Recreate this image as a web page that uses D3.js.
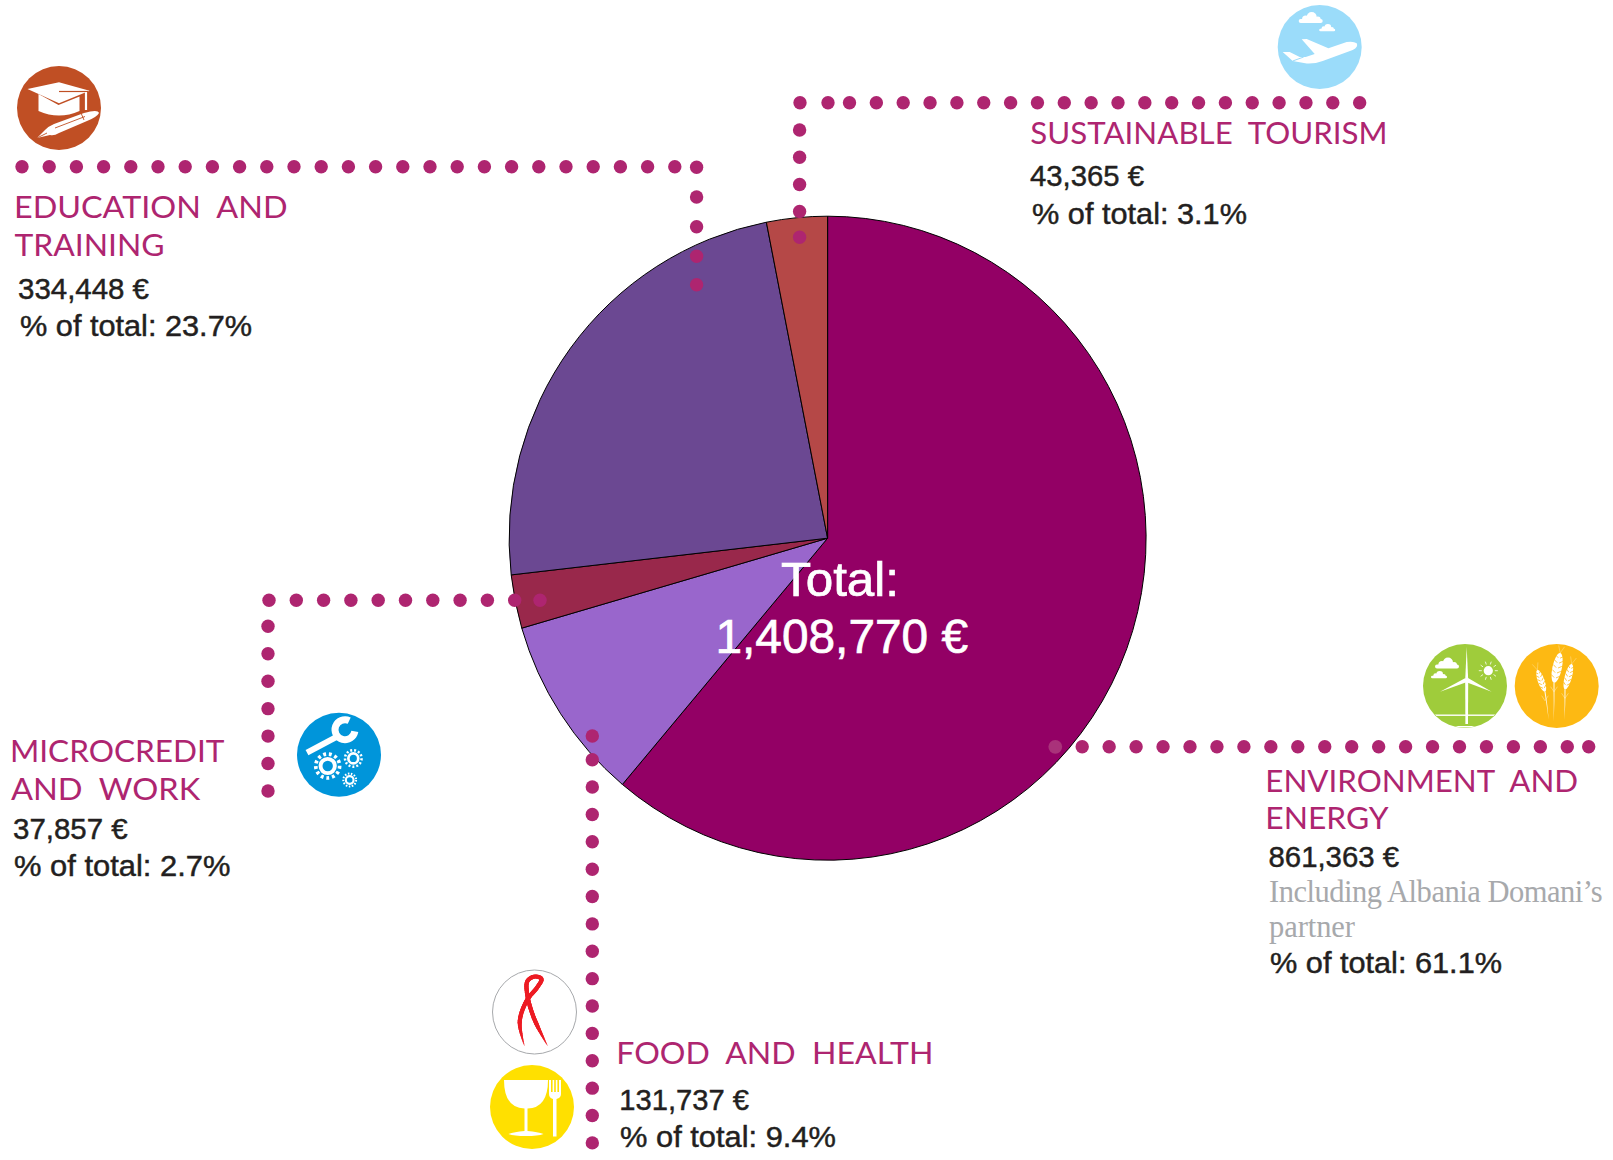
<!DOCTYPE html>
<html>
<head>
<meta charset="utf-8">
<script src="https://cdn.jsdelivr.net/npm/d3@7"></script>
<style>
html,body{margin:0;padding:0;background:#fff;overflow:hidden}
svg{position:absolute;left:0;top:0;display:block}
text{white-space:pre}
.head{font-family:Lato,"Open Sans",sans-serif;font-size:31px;fill:#ae2570;font-weight:400}
.body{font-family:"Liberation Sans",Arial,sans-serif;font-size:29px;fill:#231f20;stroke:#231f20;stroke-width:.45px}
.note{font-family:"Liberation Serif",serif;font-size:30.5px;fill:#a7a9ac}
.total{font-family:"Liberation Sans",Arial,sans-serif;font-size:48px;fill:#fff;stroke:#fff;stroke-width:.7px}
</style>
</head>
<body>
<svg id="chart" width="1613" height="1160" viewBox="0 0 1613 1160"></svg>
<script>
// ---- data ----
const categories = ["Environment and energy","Food and health","Microcredit and work","Education and training","Sustainable tourism"];
const values = [861363,131737,37857,334448,43365];
const sliceColors = ["#930065","#9966cc","#99284b","#6b4892","#b54847"];
const totalValue = 1408770;

// ---- layout ----
const W=1613,H=1160, cx=827.6, cy=538.2, rx=318.5, ry=322;
const svg=d3.select("#chart");
const euro=v=>d3.format(",")(v)+" €";
const pct=v=>"% of total: "+d3.format(".1f")(v/totalValue*100)+"%";

// ---- pie ----
const pie=d3.pie().sort(null).value(d=>d)(values);
const arc=d3.arc().innerRadius(0).outerRadius(rx);
svg.append("g").attr("transform",`translate(${cx},${cy}) scale(1,${ry/rx})`)
  .selectAll("path").data(pie).join("path")
  .attr("d",arc).attr("fill",(d,i)=>sliceColors[i])
  .attr("stroke","#000").attr("stroke-width",1).attr("vector-effect","non-scaling-stroke");

// ---- dotted leaders ----
const run=(a,step,n)=>d3.range(n).map(i=>a+i*step);
const hLine=(xs,y)=>xs.map(x=>[x,y]);
const vLine=(ys,x)=>ys.map(y=>[x,y]);
const leaders=[
  ...hLine(run(22,27.2,25),166.7), ...vLine([167.3,197,226.7,256.3,284.7],696.6),
  ...hLine([800,828,...run(849.5,26.85,20)],102.7), ...vLine([130,157.2,184.5,211.5,237.3],799.6),
  ...hLine([...run(269,27.3,10),540],600.3), ...vLine(run(626.3,27.45,7),268),
  ...vLine([736,...run(759.7,27.37,15)],592.3),
  ...hLine([...run(1082.2,26.95,19),1588.7],746.8)
];
svg.append("g").selectAll("circle").data(leaders).join("circle")
  .attr("cx",d=>d[0]).attr("cy",d=>d[1]).attr("r",6.7).attr("fill","#ae2570");
svg.append("circle").attr("cx",1055.3).attr("cy",746.8).attr("r",6.9).attr("fill","#a9327a");

// ---- text ----
function put(t,x,y,end,cls,adj){
  const sel=svg.append("text").attr("class",cls).attr("x",x).attr("y",y)
    .attr("textLength",end-x).attr("lengthAdjust",adj||"spacingAndGlyphs").text(t);
  return sel;
}
const head=(t,x,y,end)=>put(t,x-2,y,end+1.5,"head");
const body=(t,x,y,end)=>put(t,x,y,end+1,"body");
head("EDUCATION  AND",16,218.3,286);
head("TRAINING",16.5,256,163);
body(euro(values[3]),18,299.3,148);
body(pct(values[3]),20,336,251);

head("SUSTAINABLE  TOURISM",1032.3,144,1386);
body(euro(values[4]),1030,186,1143);
body(pct(values[4]),1032,224,1246);

head("ENVIRONMENT  AND",1267.3,791.7,1576.7);
head("ENERGY",1267.3,829,1387);
body(euro(values[0]),1268.5,867.3,1398);
put("Including Albania Domani’s",1269,901.7,1602.7,"note","spacing");
put("partner",1269,936.7,1355,"note","spacing");
body(pct(values[0]),1270,973.3,1501);

head("FOOD  AND  HEALTH",618.3,1064.3,932);
body(euro(values[1]),619.3,1110,748);
body(pct(values[1]),620,1146.7,835);

head("MICROCREDIT",12,762.3,223);
head("AND  WORK",13,800,198.7);
body(euro(values[2]),13,839,126.7);
body(pct(values[2]),14,876,229.5);

put("Total:",781,595.7,899,"total");
put(euro(totalValue),715.5,653,968,"total");

// ---- icons ----
const R=42;
function badge(x,y,fill,stroke){
  const g=svg.append("g").attr("transform",`translate(${x},${y})`);
  g.append("circle").attr("r",R).attr("fill",fill).attr("stroke",stroke||"none");
  return g;
}
function cloud(g,x,y,w){
  const u=w/24;
  const c=g.append("g").attr("transform",`translate(${x},${y}) scale(${u})`).attr("fill","#fff");
  c.append("rect").attr("x",-12).attr("y",-2).attr("width",24).attr("height",4).attr("rx",2);
  c.append("circle").attr("cx",-5).attr("cy",-2).attr("r",3.6);
  c.append("circle").attr("cx",1).attr("cy",-4).attr("r",5);
  c.append("circle").attr("cx",7).attr("cy",-1.5).attr("r",3);
}
const wh="#fff";

// education
let g=badge(59,108,"#c04f24");
g.append("path").attr("fill",wh).attr("d","M-31.5,-19L0,-25.7L30.5,-17.3L0,-4.7Z");
g.append("path").attr("fill",wh).attr("d","M-20.5,-14L-0.5,-3L20.5,-11.5L20.5,3Q0,12 -20.5,3Z");
g.append("path").attr("fill","none").attr("stroke","#c04f24").attr("stroke-width",1.2).attr("d","M0,-16.5L29,-16.5");
g.append("path").attr("fill","none").attr("stroke",wh).attr("stroke-width",2.2).attr("d","M27,-16L27,2");
g.append("path").attr("fill",wh).attr("d","M-22,30L-14,22Q-10,18 -5,16L25,5Q39,1 40,5Q38,9 28,13L0,25Q-5,28 -9,27Z");
g.append("path").attr("fill","none").attr("stroke","#c04f24").attr("stroke-width",.9).attr("d","M-4,20L26,8.5M-22,30L-12,25M22,5L25,12");

// tourism
g=badge(1319.7,47,"#9bdcfa");
cloud(g,-9,-26,24);
cloud(g,7.5,-17,16);
g.append("path").attr("fill",wh).attr("d","M37,-3.7Q34,-6 27,-5L8.7,1.3L-13,-8L-18,-7.7L-5,7L-14,10L-20,10L-30,5L-37,5L-27,14L-13,16.5Q-5,17 3,14L33,3Q39,0 37,-3.7Z");
g.append("path").attr("fill","none").attr("stroke","#9bdcfa").attr("stroke-width",1).attr("d","M-27,14L-16,10");

// wind
g=badge(1465,686,"#9fcc3b");
const clipW=svg.append("defs").append("clipPath").attr("id","cw");
clipW.append("circle").attr("r",R-0.5);
const gw=g.append("g").attr("clip-path","url(#cw)");
gw.append("rect").attr("x",-R).attr("y",28.5).attr("width",2*R).attr("height",1.4).attr("fill",wh);
gw.append("rect").attr("x",-R).attr("y",40).attr("width",2*R).attr("height",3).attr("fill",wh);
g.append("path").attr("fill",wh).attr("d","M0.2,-6L1.7,-39L3.2,-6L3,38L0.4,38Z");
g.append("path").attr("fill",wh).attr("d","M0.5,-8L-25,5.7L2,-4Z");
g.append("path").attr("fill",wh).attr("d","M3,-8L26.7,5.7L0.8,-4Z");
g.append("circle").attr("cx",23.3).attr("cy",-15.3).attr("r",4.6).attr("fill",wh);
g.append("g").selectAll("line").data(d3.range(10)).join("line")
  .attr("x1",d=>23.3+6.5*Math.cos(d*Math.PI/5)).attr("y1",d=>-15.3+6.5*Math.sin(d*Math.PI/5))
  .attr("x2",d=>23.3+9.5*Math.cos(d*Math.PI/5)).attr("y2",d=>-15.3+9.5*Math.sin(d*Math.PI/5))
  .attr("stroke",wh).attr("stroke-width",.8);
cloud(g,-18,-19.5,24);
cloud(g,-26,-9,16);

// wheat
g=badge(1556.7,686,"#fdb913");
function ear(g,x0,y0,x1,y1,sx,sy,w){
  const a=Math.atan2(y1-y0,x1-x0)*180/Math.PI, len=Math.hypot(x1-x0,y1-y0);
  // stem
  const nx=(y1-y0)/len, ny=-(x1-x0)/len;
  g.append("path").attr("fill","#fff").attr("fill-opacity",.85)
    .attr("d",`M${x1-.6},${y1}Q${(x1+sx)/2},${(y1+sy)/2} ${sx},${sy}Q${(x1+sx)/2+.8},${(y1+sy)/2} ${x1+.6},${y1}Z`);
  // side barbs on stem
  g.append("path").attr("fill","none").attr("stroke","#fff").attr("stroke-width",.5).attr("stroke-opacity",.7)
    .attr("d",`M${x1},${y1+9}l${nx*3.5},${-5}M${x1},${y1+9}l${-nx*3.5},${-5}`);
  // awns
  g.append("path").attr("fill","none").attr("stroke","#fff").attr("stroke-width",.5).attr("stroke-opacity",.55)
    .attr("d",`M${x0},${y0}l${(x0-x1)/len*7+nx*3},${(y0-y1)/len*7+ny*3}M${x0},${y0}l${(x0-x1)/len*7-nx*3},${(y0-y1)/len*7-ny*3}`);
  const e=g.append("g").attr("transform",`translate(${(x0+x1)/2},${(y0+y1)/2}) rotate(${a})`);
  e.append("ellipse").attr("rx",len/2).attr("ry",w/2).attr("fill","#fff");
  d3.range(1,6).forEach(i=>{
    const t=-len/2+len*i/6;
    e.append("path").attr("fill","none").attr("stroke","#fdb913").attr("stroke-width",.7)
      .attr("d",`M${t-2.4},${-w*.46}L${t},${-w*.1}M${t-2.4},${w*.46}L${t},${w*.1}`);
  });
}
ear(g,3.5,-33,-2.7,-3.3,-3,35.5,9.5);
ear(g,-19.3,-16,-11.7,5.7,-8,34,6.8);
ear(g,15,-22,8.3,3.3,7.7,34,7.2);

// ribbon
g=badge(534.5,1012,"#fff","#a7a9ac");
const ribbon=[[-10.2,33.3],[-14.8,10],[-8,-11],[3,-25],[7,-33],[0.5,-35.5],[-7,-31],[-7.5,-19],[-1,5],[12.8,33.3]];
const tmp=g.append("path").attr("d",d3.line().curve(d3.curveCatmullRom)(ribbon)).attr("fill","none");
const L=tmp.node().getTotalLength();
g.append("g").attr("fill","#ed1c24").selectAll("circle").data(d3.range(0,1.0001,1/240)).join("circle")
  .each(function(t){
    const p=tmp.node().getPointAtLength(t*L);
    d3.select(this).attr("cx",p.x).attr("cy",p.y).attr("r",.35+1.75*Math.min(1,Math.sin(Math.PI*t)*2.2));
  });
tmp.remove();

// food
g=badge(532,1107,"#ffe000");
g.append("path").attr("fill",wh).attr("d","M-28,-27L16,-27Q16,1 -4.5,1.5L-4.5,24Q6,25 11.5,27Q6,29 -6,29Q-18,29 -23.5,27Q-18,25 -7.5,24L-7.5,1.5Q-28,1 -28,-27Z");
g.append("path").attr("fill",wh).attr("d","M17,-27L19,-27L19,-15L20.6,-15L20.6,-27L22.2,-27L22.2,-15L23.8,-15L23.8,-27L25.4,-27L25.4,-15L27,-15L27,-27L29,-27L29,-13Q29,-9 24.5,-8L24.5,29.5L21,29.5L21,-8Q17,-9 17,-13Z");

// microcredit
g=badge(339,754.7,"#0095da");
g.append("line").attr("x1",-32).attr("y1",-2).attr("x2",0).attr("y2",-19)
  .attr("stroke",wh).attr("stroke-width",6);
g.append("path").attr("fill",wh).attr("transform","translate(6,-25)")
  .attr("d",d3.arc().innerRadius(6.5).outerRadius(13.5).startAngle(100*Math.PI/180).endAngle(385*Math.PI/180)());
function gear(g,x,y,r){
  g.append("circle").attr("cx",x).attr("cy",y).attr("r",r*.92).attr("fill","none").attr("stroke",wh)
    .attr("stroke-width",r*.28).attr("stroke-dasharray",`${r*.22} ${r*.22}`);
  g.append("circle").attr("cx",x).attr("cy",y).attr("r",r*.55).attr("fill","none").attr("stroke",wh).attr("stroke-width",r*.3);
}
gear(g,-11.3,11.3,13);
gear(g,14.3,3.7,9);
gear(g,10.7,25.3,7);
</script>
</body>
</html>
